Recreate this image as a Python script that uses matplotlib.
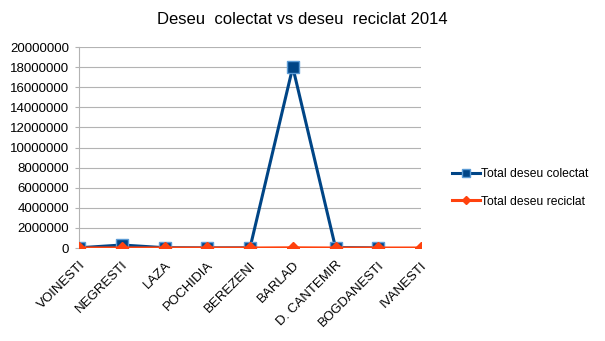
import matplotlib.pyplot as plt
import numpy as np

plt.rcParams['font.family'] = ['Liberation Sans', 'DejaVu Sans']

# Data
localitati = ['VOINESTI', 'NEGRESTI', 'LAZA', 'POCHIDIA', 'BEREZENI',
              'BARLAD', 'D. CANTEMIR', 'BOGDANESTI', 'IVANESTI']
colectat = [20000, 300000, 30000, 10000, 15000, 18000000, 40000, 10000, np.nan]
reciclat = [0, 5000, 0, 0, 0, 20000, 0, 0, 0]
y_ticks = np.arange(0, 20000001, 2000000)

fig = plt.figure(figsize=(6.05, 3.41), dpi=100)
ax = fig.add_axes([0.1306, 0.2727, 0.5653, 0.5894])

x = np.arange(len(localitati))
ax.plot(x, colectat, color='#004586', lw=2.2, marker='s', ms=8,
        mfc='#004586', mec='#5b9bd5', mew=1, label='Total deseu colectat', zorder=3)
ax.plot(x, reciclat, color='#ff420e', lw=2.2, marker='D', ms=6,
        mfc='#ff420e', mec='#ff420e', label='Total deseu reciclat', zorder=4)

ax.set_xlim(0, len(localitati) - 1)
ax.set_ylim(0, 20000000)
ax.set_yticks(y_ticks)
ax.set_yticklabels([str(v) for v in y_ticks], fontsize=9.5)
ax.set_xticks(x)
ax.set_xticklabels(localitati, rotation=45, ha='right', rotation_mode='anchor', fontsize=9.5)
ax.tick_params(axis='x', length=0, pad=8)
ax.tick_params(axis='y', length=3, color='#b3b3b3', pad=4)
ax.grid(axis='y', color='#b3b3b3', lw=0.8)
for s in ['top', 'right', 'bottom']:
    ax.spines[s].set_visible(False)
ax.spines['left'].set_color('#b3b3b3')
ax.set_axisbelow(True)

fig.suptitle('Deseu  colectat vs deseu  reciclat 2014', x=0.5, y=0.965, fontsize=12)
ax.legend(loc='center left', bbox_to_anchor=(1.06, 0.3), frameon=False,
          fontsize=8.7, handlelength=2.3, handletextpad=0.1, labelspacing=1.3,
          markerscale=0.75)

fig.savefig('out.png', dpi=100)
